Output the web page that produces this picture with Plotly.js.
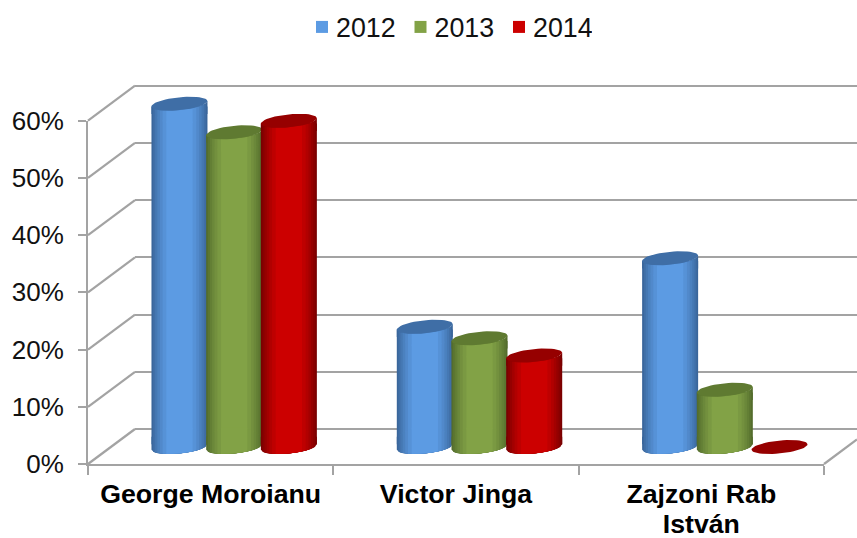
<!DOCTYPE html>
<html>
<head>
<meta charset="utf-8">
<script src="https://cdn.plot.ly/plotly-3.0.1.min.js"></script>
<style>html,body{margin:0;padding:0;background:#fff}#chart{width:857px;height:538px}</style>
</head>
<body>
<div id="chart"></div>
<script>
// ---- data ----
const categories = ['George Moroianu', 'Victor Jinga', 'Zajzoni Rab<br>István'];
const seriesNames = ['2012', '2013', '2014'];
const values2012 = [60, 21, 33];
const values2013 = [55, 19, 10];
const values2014 = [57, 16, 0];
const yTicks = [0, 10, 20, 30, 40, 50, 60];

// ---- styles ----
const W = 857, H = 538;
const GRID = '#a3a3a3';
const TEXT = '#111111';
const FONT = '"Liberation Sans", Arial, sans-serif';
const EDGE = [[58, 102, 155], [84, 109, 45], [122, 0, 0]];
const MID = [[92, 155, 227], [130, 162, 70], [204, 0, 0]];
const CAP = ['#3f6ea6', '#5f7a31', '#960000'];
const LAYERS = [1, 0.94, 0.87, 0.79, 0.7, 0.6, 0.47];

// ---- projection of the 3D frame, pixels ----
const frontL = 88, frontR = 824, floorY = 464, topY = 120.7;
const wallDX = 47, wallDY = 35;       // back wall offset
const midDX = 23.5, midDY = 17;       // plane of the cylinders
const pxPerVal = (floorY - topY) / 60;
const pxPerCat = (frontR - frontL) / 3;
const halfW = 28, barStep = 54.7 / pxPerCat;
const tilt = 2.7, minor = 6.5;        // ellipse shape, pixels
const trim = tilt / pxPerVal;
const PAD = 4;                        // axis head-room so that nothing is clipped, in value units
const PADPX = PAD * pxPerVal;
const dom = (a, b, n) => [a / n, b / n];
const yDom = (bot, top) => [(H - bot) / H, (H - top) / H];
const paperY = px => (H - px) / H;
const lineLabel = t => t.split('<br>').map(s => '<span style="font-size:26.7px">' + s + '</span>').join('<br>');
const labels = categories.map(lineLabel);

function mix(a, b, t) {
  return 'rgb(' + a.map((c, i) => Math.round(c + (b[i] - c) * t)).join(',') + ')';
}
// lower arc of an ellipse as a closed strip, |u| <= f, closed flat `flatPx` above/below the centre
function arcStrip(cx, cv, f, flatPx) {
  const xs = [], ys = [];
  for (let i = 0; i <= 24; i++) {
    const u = -f + 2 * f * i / 24;
    xs.push(cx + u * halfW / pxPerCat);
    ys.push(cv + (tilt * u - minor * Math.sqrt(Math.max(0, 1 - u * u))) / pxPerVal);
  }
  xs.push(cx + f * halfW / pxPerCat, cx - f * halfW / pxPerCat, cx - f * halfW / pxPerCat);
  ys.push(cv + flatPx / pxPerVal, cv + flatPx / pxPerVal, ys[0]);
  return [xs, ys];
}
function ellipse(cx, cv) {
  const xs = [], ys = [];
  for (let i = 0; i <= 48; i++) {
    const t = 2 * Math.PI * i / 48;
    xs.push(cx + Math.cos(t) * halfW / pxPerCat);
    ys.push(cv + (tilt * Math.cos(t) + minor * Math.sin(t)) / pxPerVal);
  }
  return [xs, ys];
}

const allValues = [values2012, values2013, values2014];
// empty frame traces keep the category axis and the wall subplot alive
const traces = [
  {type: 'scatter', mode: 'none', x: labels, y: [0, 0, 0], xaxis: 'x', yaxis: 'y', hoverinfo: 'skip', showlegend: false},
  {type: 'scatter', mode: 'none', x: [0, 1], y: [0, 0], xaxis: 'x2', yaxis: 'y2', hoverinfo: 'skip', showlegend: false}
];
allValues.forEach((vals, s) => {
  const xa = 'x' + (s + 3), ya = 'y' + (s + 3);
  const xPos = categories.map((_, i) => i + (s - 1) * barStep);
  // gradient body: nested bars
  LAYERS.forEach((f, l) => {
    const col = mix(EDGE[s], MID[s], l / (LAYERS.length - 1));
    traces.push({
      type: 'bar', name: seriesNames[s], xaxis: xa, yaxis: ya,
      x: xPos, base: vals.map(() => trim), y: vals.map(v => Math.max(0, v - 2 * trim)),
      width: 2 * f * halfW / pxPerCat,
      marker: {color: col, line: {width: 0}},
      cliponaxis: false, hoverinfo: 'skip',
      showlegend: l === LAYERS.length - 1
    });
  });
  // rounded foot and shoulder of every layer
  LAYERS.forEach((f, l) => {
    const col = mix(EDGE[s], MID[s], l / (LAYERS.length - 1));
    const X = [], Y = [];
    vals.forEach((v, i) => {
      if (v <= 2 * trim) return;
      [0, v].forEach(level => {
        const sign = level === 0 ? 1 : -1;
        const [a, b] = arcStrip(xPos[i], level, f, sign * (tilt + minor + 1 + l * 1.5));
        X.push(...a, null); Y.push(...b, null);
      });
    });
    traces.push({
      type: 'scatter', mode: 'lines', xaxis: xa, yaxis: ya, x: X, y: Y,
      fill: 'toself', fillcolor: col, line: {width: 0, color: col},
      cliponaxis: false, hoverinfo: 'skip', showlegend: false
    });
  });
  // top faces
  const X = [], Y = [];
  vals.forEach((v, i) => {
    const [a, b] = ellipse(xPos[i], v);
    X.push(...a, null); Y.push(...b, null);
  });
  traces.push({
    type: 'scatter', mode: 'lines', xaxis: xa, yaxis: ya, x: X, y: Y,
    fill: 'toself', fillcolor: CAP[s], line: {width: 0, color: CAP[s]},
    cliponaxis: false, hoverinfo: 'skip', showlegend: false
  });
});

// diagonal edges of the side wall and floor
const gridLine = {color: GRID, width: 2.2};
const shapes = yTicks.map(v => ({
  type: 'line', xref: 'paper', yref: 'paper', layer: 'below', line: gridLine,
  x0: frontL / W, x1: (frontL + wallDX) / W,
  y0: paperY(floorY - v * pxPerVal), y1: paperY(floorY - wallDY - v * pxPerVal)
}));
shapes.push({
  type: 'line', xref: 'paper', yref: 'paper', layer: 'below', line: gridLine,
  x0: frontR / W, x1: 1, y0: paperY(floorY), y1: paperY(floorY - (W - frontR) * wallDY / wallDX)
});

const paddedRange = [-PAD, 60 + PAD];
const paddedDom = shift => yDom(floorY - shift + PADPX, topY - shift - PADPX);
const hiddenX = d => ({domain: d, range: [-0.5, 2.5], visible: false, fixedrange: true});
const hiddenY = d => ({domain: d, range: paddedRange, visible: false, fixedrange: true});
const cylX = dom(frontL + midDX, frontR + midDX, W);
const cylY = paddedDom(midDY);

const layout = {
  width: W, height: H,
  margin: {l: 0, r: 0, t: 0, b: 0},
  paper_bgcolor: '#fff', plot_bgcolor: 'rgba(0,0,0,0)',
  font: {family: FONT, size: 26, color: TEXT},
  barmode: 'overlay',
  showlegend: true,
  legend: {
    orientation: 'h', x: 296 / W, xanchor: 'left', y: 1 - 27 / H, yanchor: 'middle',
    font: {family: FONT, size: 26.8, color: TEXT},
    entrywidth: 53.5, entrywidthmode: 'pixels',
    traceorder: 'normal', bgcolor: 'rgba(0,0,0,0)', borderwidth: 0
  },
  // front frame with labels
  xaxis: {
    domain: dom(frontL, frontR, W), type: 'category',
    categoryorder: 'array', categoryarray: labels,
    range: [-0.5, 2.5], anchor: 'y',
    tickson: 'boundaries', ticks: 'outside', ticklen: 9, tickwidth: 2, tickcolor: GRID,
    showline: true, linecolor: GRID, linewidth: 2, showgrid: false, zeroline: false,
    tickfont: {family: FONT, size: 23, color: '#000', weight: 'bold'},
    ticklabelstandoff: 9, fixedrange: true
  },
  yaxis: {
    domain: yDom(floorY, topY), range: [0, 60], anchor: 'x',
    tickmode: 'array', tickvals: yTicks, ticktext: yTicks.map(v => v + '%'),
    ticks: 'outside', ticklen: 8, tickwidth: 2, tickcolor: GRID,
    showline: true, linecolor: GRID, linewidth: 2, showgrid: false, zeroline: false,
    tickfont: {family: FONT, size: 26, color: TEXT},
    ticklabelstandoff: 9, fixedrange: true
  },
  // back wall
  xaxis2: {domain: dom(frontL + wallDX, W, W), range: [0, 1], anchor: 'y2', visible: false, fixedrange: true},
  yaxis2: {
    domain: paddedDom(wallDY), range: paddedRange, anchor: 'x2',
    tickmode: 'array', tickvals: yTicks, showticklabels: false, ticks: '',
    showline: false, showgrid: true, gridcolor: GRID, gridwidth: 2, zeroline: false, fixedrange: true
  },
  // cylinders, one plane per series so that later series lie over earlier ones
  xaxis3: Object.assign(hiddenX(cylX), {anchor: 'y3'}),
  yaxis3: Object.assign(hiddenY(cylY), {anchor: 'x3'}),
  xaxis4: Object.assign(hiddenX(cylX), {anchor: 'y4'}),
  yaxis4: Object.assign(hiddenY(cylY), {anchor: 'x4'}),
  xaxis5: Object.assign(hiddenX(cylX), {anchor: 'y5'}),
  yaxis5: Object.assign(hiddenY(cylY), {anchor: 'x5'}),
  shapes: shapes
};

Plotly.newPlot('chart', traces, layout, {displayModeBar: false, staticPlot: true}).then(() => {
  // the reference keeps its legend keys closer to the labels
  document.querySelectorAll('#chart .legend .legendsymbols').forEach(g => g.setAttribute('transform', 'translate(6,0)'));
});
</script>
</body>
</html>
